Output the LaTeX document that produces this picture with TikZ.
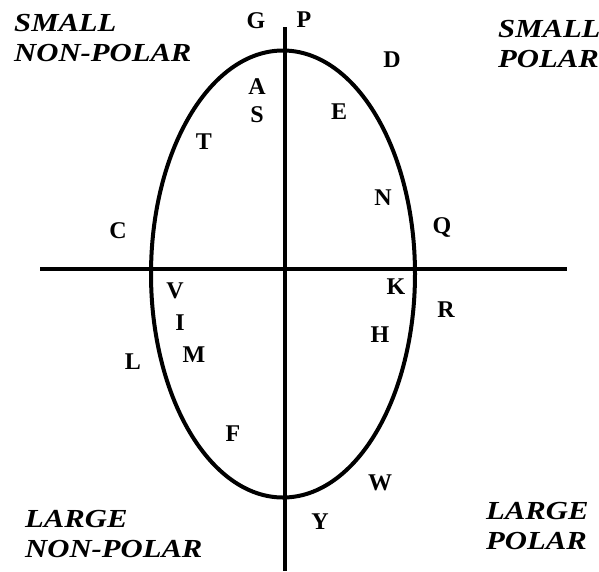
\documentclass[tikz,border=0pt]{standalone}
\usepackage{fontspec}
\setmainfont{Liberation Serif}
\newfontfamily\quadfont[FakeStretch=1.18]{Liberation Serif}
\usepackage{tikz}
\usetikzlibrary{positioning,shapes.geometric}

\begin{document}
\begin{tikzpicture}[
    x=1pt, y=-1pt,
    axis/.style={line width=4.5pt},
    oval/.style={line width=4pt},
    res/.style={inner sep=0pt, font=\fontsize{24}{28}\selectfont\bfseries},
    quad/.style={inner sep=0pt, anchor=base west, align=left, font=\fontsize{26}{30}\selectfont\quadfont\bfseries\itshape}
]
\useasboundingbox (0,0) rectangle (599,571);

% axes
\coordinate (top) at (285,27);
\coordinate (bottom) at (285,571);
\coordinate (left) at (40,269);
\coordinate (right) at (567,269);
\draw[axis] (left) -- (right);
\draw[axis] (top) -- (bottom);

% the oval
\node[oval, draw, ellipse, minimum width=264pt, minimum height=447pt, inner sep=0pt] (ring) at (283,274) {};

% quadrant labels (base = last line)
\node[quad] (snp) at (14,61) {SMALL\\NON-POLAR};
\node[quad] (sp) at (498,67) {SMALL\\POLAR};
\node[quad] (lnp) at (25,557) {LARGE\\NON-POLAR};
\node[quad] (lp) at (486,549) {LARGE\\POLAR};

% residues
\node[res] (G) at (256,21) {G};
\node[res] (P) at (304,20) {P};
\node[res] (D) at (392,60) {D};
\node[res] (A) at (257,87) {A};
\node[res] (S) at (257,115) {S};
\node[res] (E) at (339,112) {E};
\node[res] (T) at (204,142) {T};
\node[res] (N) at (383,198) {N};
\node[res] (Q) at (442,227) {Q};
\node[res] (C) at (118,231) {C};
\node[res] (K) at (396,287) {K};
\node[res] (V) at (175,291) {V};
\node[res] (R) at (446,310) {R};
\node[res] (I) at (180,323) {I};
\node[res] (H) at (380,335) {H};
\node[res] (M) at (194,355) {M};
\node[res] (L) at (133,362) {L};
\node[res] (F) at (233,434) {F};
\node[res] (W) at (380,483) {W};
\node[res] (Y) at (320,522) {Y};
\end{tikzpicture}
\end{document}
